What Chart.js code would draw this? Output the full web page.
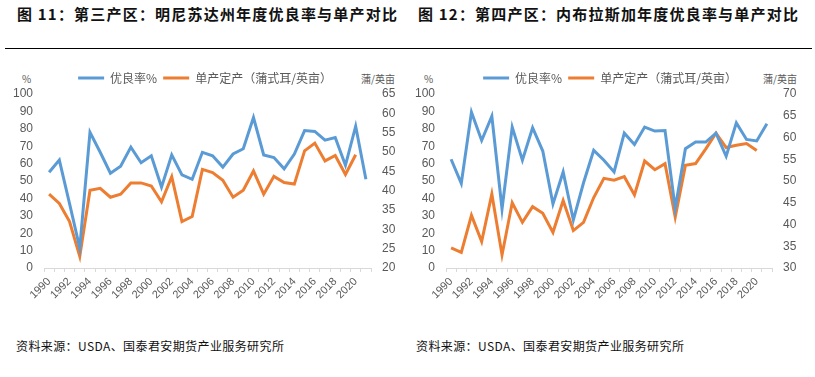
<!DOCTYPE html>
<html>
<head>
<meta charset="utf-8">
<script src="https://cdn.jsdelivr.net/npm/chart.js@4"></script>
<style>
  body{ margin:0; background:#fff; width:815px; height:377px; position:relative; overflow:hidden;
        font-family:"Noto Sans CJK SC","Noto Sans",sans-serif; }
  .title{ position:absolute; top:3px; font-size:15px; font-weight:bold; color:#111; letter-spacing:1.2px; }
  .rule{ position:absolute; left:5px; width:807px; top:48px; height:0; border-top:1px solid #000; }
  .unit{ position:absolute; top:71px; font-size:10px; color:#595959; }
  .src{ position:absolute; top:337px; font-size:12px; color:#111; letter-spacing:0.4px; }
  canvas{ position:absolute; }
</style>
</head>
<body>
<div class="title" style="left:17px">图 11：第三产区：明尼苏达州年度优良率与单产对比</div>
<div class="title" style="left:418px">图 12：第四产区：内布拉斯加年度优良率与单产对比</div>
<div class="rule"></div>

<div class="unit" style="left:22px">%</div>
<div class="unit" style="left:361px">蒲/英亩</div>
<div class="unit" style="left:424px">%</div>
<div class="unit" style="left:763px">蒲/英亩</div>

<div style="position:absolute;left:0;top:66px;width:410px;height:244px"><canvas id="mn"></canvas></div>
<div style="position:absolute;left:405px;top:66px;width:410px;height:244px"><canvas id="ne"></canvas></div>

<div class="src" style="left:16px">资料来源：USDA、国泰君安期货产业服务研究所</div>
<div class="src" style="left:416px">资料来源：USDA、国泰君安期货产业服务研究所</div>

<script>
const years = ["1990","1991","1992","1993","1994","1995","1996","1997","1998","1999",
   "2000","2001","2002","2003","2004","2005","2006","2007","2008","2009",
   "2010","2011","2012","2013","2014","2015","2016","2017","2018","2019",
   "2020","2021"];

// 明尼苏达州
const mnGood = [55,62,37,11.5,78,66.5,54.5,58.5,69.5,60.5,
   64.5,46.5,65,53.5,51,66.5,64.5,58,65.5,68.5,
   86.5,65,63.5,57,65.5,79,78.5,73.5,75,59,
   81.5,51];
const mnYield = [39.1,36.7,32,23,40.1,40.6,38.3,39.1,42,42,
   41.2,37.1,43.6,32,33.3,45.5,44.7,42.7,38.3,40.1,
   45.1,39.1,43.7,42.1,41.7,50.3,52.3,47.7,49.1,44.2,
   49.3,null];

// 内布拉斯加
const neGood = [62.5,48.6,89.5,73.3,87.2,33.9,81,61.9,80.6,67.2,
   36.8,55.2,27.6,49,67.6,61.9,55.2,77.5,71,81,
   78.7,79,34.3,68.6,72.4,72.4,77.5,64.2,83.4,73.9,
   73,82.9];
const neYield = [34.6,33.6,42.1,36.1,47,33,45,40.5,44.1,42.6,
   38.2,45.5,38.6,40.5,46.2,50.6,50.2,51,46.8,54.6,
   52.6,54,41.7,53.6,54,57.4,61,57.7,58.2,58.6,
   57,null];

const seriesNames = ["优良率%","单产定产（蒲式耳/英亩）"];

const BLUE = "#5b9bd5";
const ORANGE = "#ed7d31";
const GREY = "#595959";

function makeChart(id, good, yld, rMin, rMax, rStep, leftW, rightW){

   let ctx = document.getElementById(id).getContext("2d");

   return new Chart(ctx, {

      type: "line",

      data: {
         labels: years,
         datasets: [{
            label: seriesNames[0],
            data: good,
            borderColor: BLUE,
            backgroundColor: BLUE,
            borderWidth: 3,
            pointRadius: 0,
            tension: 0,
            yAxisID: "y"
         },{
            label: seriesNames[1],
            data: yld,
            borderColor: ORANGE,
            backgroundColor: ORANGE,
            borderWidth: 3,
            pointRadius: 0,
            tension: 0,
            yAxisID: "y1"
         }]
      },

      options: {
         responsive: true,
         maintainAspectRatio: false,
         animation: false,
         plugins: {
            legend: {
               position: "top",
               labels: {
                  usePointStyle: true,
                  pointStyle: "line",
                  pointStyleWidth: 26,
                  boxHeight: 12,
                  padding: 6,
                  color: GREY,
                  font: { size: 12, family: "'Noto Sans CJK SC'" }
               }
            },
            tooltip: { enabled: false }
         },
         scales: {
            x: {
               offset: true,
               grid: { display: true, drawOnChartArea: false, tickLength: 4, color: "#d9d9d9", offset: true },
               border: { color: "#d9d9d9" },
               ticks: {
                  autoSkip: false,
                  maxRotation: 45,
                  minRotation: 45,
                  color: GREY,
                  font: { size: 11 },
                  callback: function(v, i){ return i % 2 === 0 ? years[i] : ""; }
               },
               afterFit: function(s){ s.height = 42; }
            },
            y: {
               position: "left",
               min: 0, max: 100,
               ticks: { stepSize: 10, color: GREY, font: { size: 12 } },
               grid: { display: false },
               border: { display: false },
               afterFit: function(s){ s.width = leftW; }
            },
            y1: {
               position: "right",
               min: rMin, max: rMax,
               ticks: { stepSize: rStep, color: GREY, font: { size: 12 } },
               grid: { display: false },
               border: { display: false },
               afterFit: function(s){ s.width = rightW; }
            }
         }
      }
   });
}

makeChart("mn", mnGood, mnYield, 20, 65, 5, 44, 39);
makeChart("ne", neGood, neYield, 30, 70, 5, 41, 43);
</script>
</body>
</html>
